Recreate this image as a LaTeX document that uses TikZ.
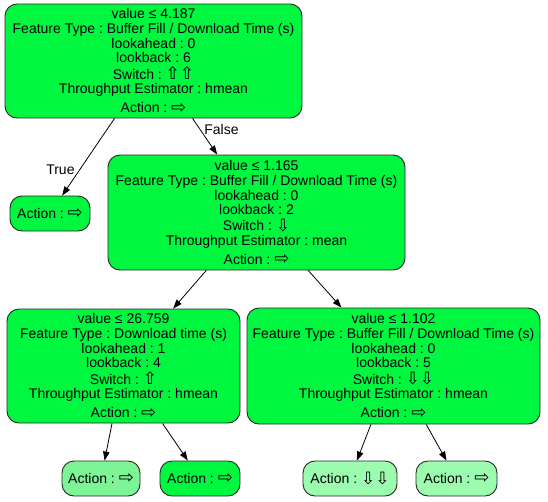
\documentclass[tikz,border=0pt]{standalone}
\usepackage{fontspec}
\setmainfont{Liberation Sans}
\newfontfamily\arrowfont{DejaVu Sans}
\usetikzlibrary{arrows.meta}
\frenchspacing
\definecolor{splitgreen}{RGB}{0,247,64}
\definecolor{leafgreen}{RGB}{125,244,150}
\definecolor{paleleaf}{RGB}{155,252,175}
\newcommand{\rarr}{{\fontsize{18}{15}\arrowfont\raisebox{-0.5pt}{⇨}}}
\newcommand{\uarr}{{\fontsize{17}{15}\arrowfont\raisebox{-0.5pt}{⇧}}}
\newcommand{\darr}{{\fontsize{17}{15}\arrowfont\raisebox{-0.5pt}{⇩}}}
\newcommand{\treefont}{\fontsize{14}{15}\selectfont\lineskiplimit=-20pt\relax}
\tikzset{
  treenode/.style={draw=black!85, line width=0.9pt, rounded corners=12pt, fill=splitgreen,
    align=center, inner sep=0pt, font=\treefont},
  leafnode/.style={treenode, minimum height=35pt},
  edge/.style={line width=0.8pt, -{Triangle[length=9pt,width=6.5pt]}},
  edgelabel/.style={font=\fontsize{14}{15}\selectfont, inner sep=2pt}
}
\begin{document}
\begin{tikzpicture}[x=1pt, y=-1pt]
\useasboundingbox (0,0) rectangle (548,501);
% split nodes
\node[treenode, minimum width=297pt, minimum height=114pt] (root) at (153.5,61)
  {value ≤ 4.187\\ Feature Type : Buffer Fill / Download Time (s)\\ lookahead : 0\\[-1pt] lookback : 6\\[1.5pt]
   Switch : \uarr\uarr\\[-0.5pt] Throughput Estimator : hmean\\[4pt] Action : \rarr};
\node[treenode, minimum width=297pt, minimum height=115pt] (split2) at (256.5,212.5)
  {value ≤ 1.165\\ Feature Type : Buffer Fill / Download Time (s)\\ lookahead : 0\\[-1pt] lookback : 2\\[1.5pt]
   Switch : \darr\\[-0.5pt] Throughput Estimator : mean\\[4pt] Action : \rarr};
\node[treenode, minimum width=233pt, minimum height=114pt] (split3) at (123.5,366)
  {value ≤ 26.759\\ Feature Type : Download time (s)\\ lookahead : 1\\[-1pt] lookback : 4\\[1.5pt]
   Switch : \uarr\\[-0.5pt] Throughput Estimator : hmean\\[4pt] Action : \rarr};
\node[treenode, minimum width=293pt, minimum height=116pt] (split4) at (393.5,366)
  {value ≤ 1.102\\ Feature Type : Buffer Fill / Download Time (s)\\ lookahead : 0\\[-1pt] lookback : 5\\[1.5pt]
   Switch : \darr\darr\\[-0.5pt] Throughput Estimator : hmean\\[4pt] Action : \rarr};
% leaves
\node[leafnode, minimum width=80pt] (leafT) at (50,213.5) {Action : \rarr};
\node[leafnode, minimum width=78pt, fill=leafgreen] (leafA) at (101,478.5) {Action : \rarr};
\node[leafnode, minimum width=80pt] (leafB) at (200,478.5) {Action : \rarr};
\node[leafnode, minimum width=94pt, fill=paleleaf] (leafC) at (350,478.5) {Action : \darr\darr};
\node[leafnode, minimum width=81pt, fill=paleleaf] (leafD) at (456.5,478.5) {Action : \rarr};
% edges
\draw[edge] (root) -- node[edgelabel, pos=0.66, left=3pt] {True} (leafT);
\draw[edge] (root) -- node[edgelabel, pos=0.3, right=2pt] {False} (split2);
\draw[edge] (split2) -- (split3);
\draw[edge] (split2) -- (split4);
\draw[edge] (split3) -- (leafA);
\draw[edge] (split3) -- (leafB);
\draw[edge] (split4) -- (leafC);
\draw[edge] (split4) -- (leafD);
\end{tikzpicture}
\end{document}
